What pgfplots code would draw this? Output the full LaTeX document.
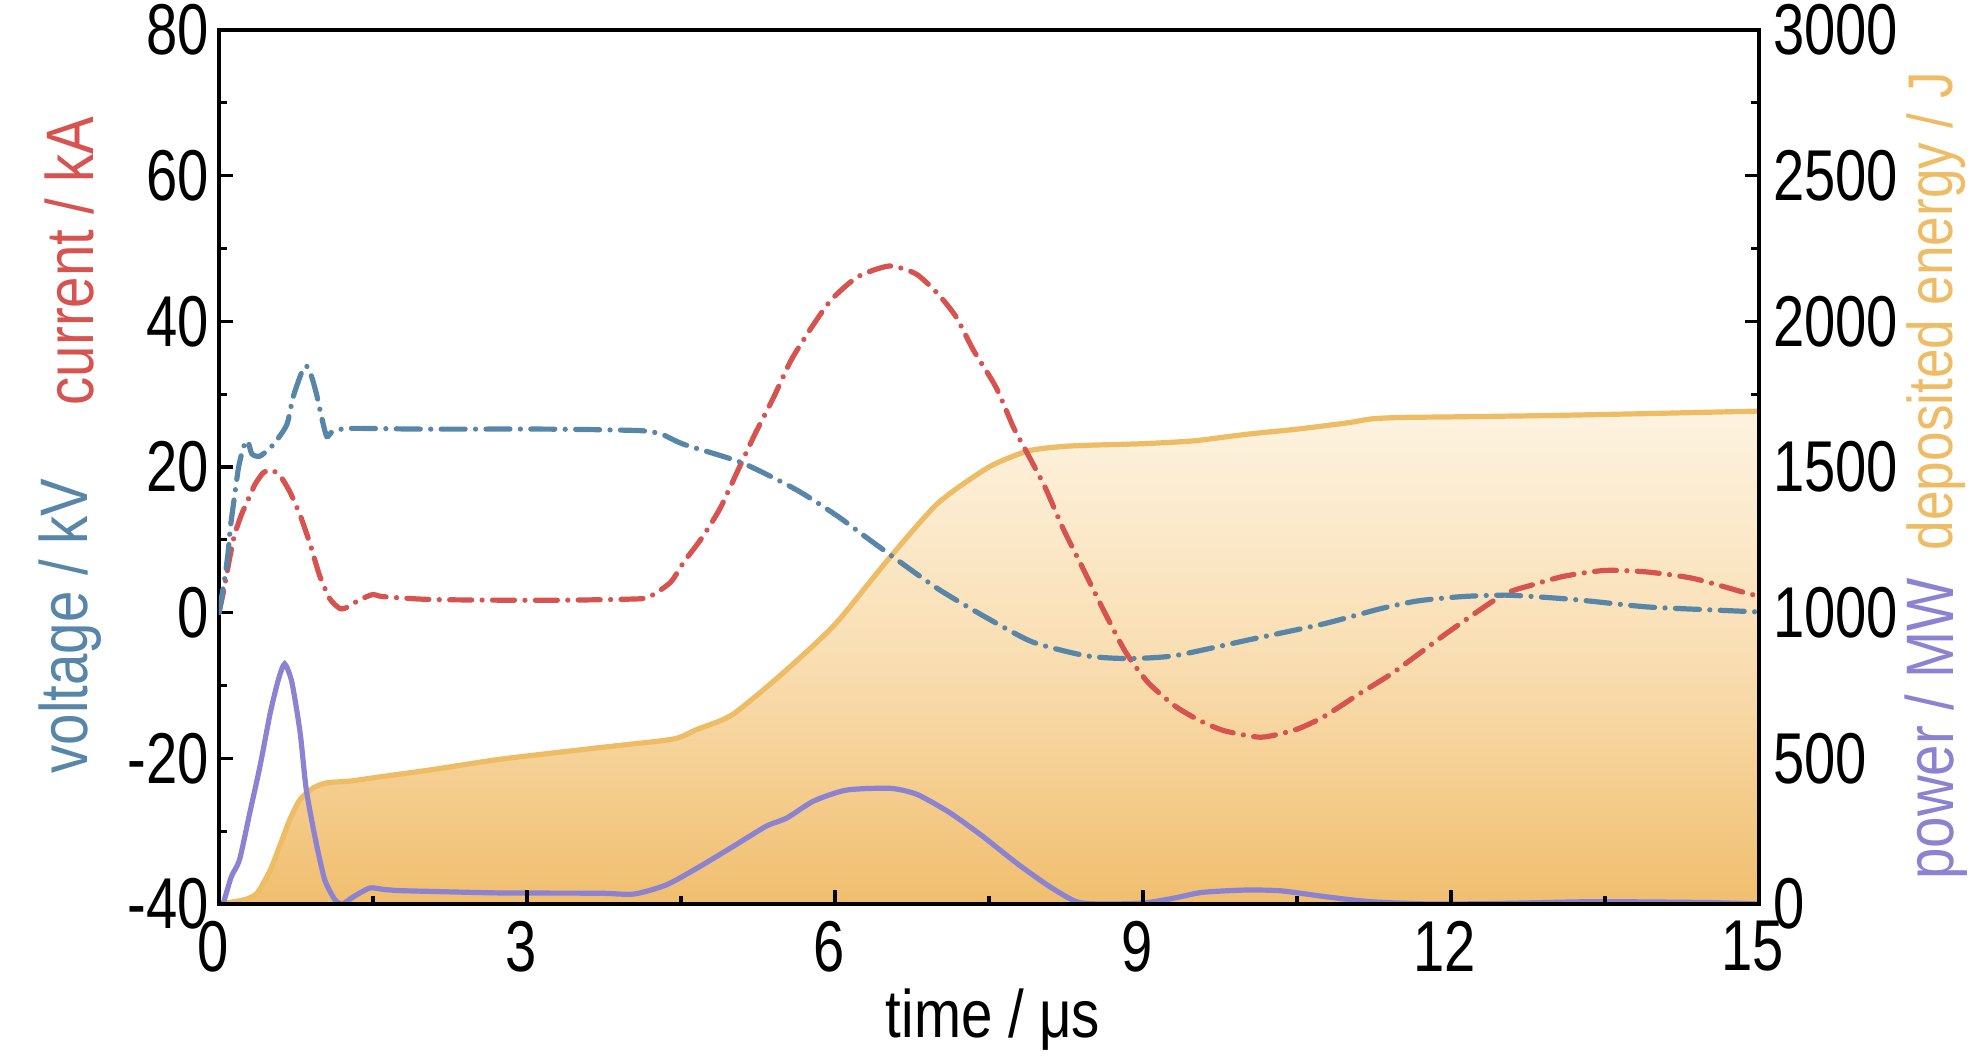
\documentclass[border=0pt]{standalone}
\usepackage{fontspec}
\setmainfont{Liberation Sans}[FakeStretch=0.84]
\newfontfamily\tickfont{Liberation Sans}[FakeStretch=0.78]
\usepackage{pgfplots}
\pgfplotsset{compat=1.18}
\definecolor{cred}{RGB}{214,83,79}
\definecolor{cblue}{RGB}{88,134,168}
\definecolor{cpurple}{RGB}{140,130,210}
\definecolor{corange}{RGB}{238,188,100}
\definecolor{ftop}{RGB}{253,243,224}
\definecolor{fmid}{RGB}{249,222,178}
\definecolor{fbot}{RGB}{240,190,110}
\newcommand\lbl{\fontsize{16.8}{20}\selectfont}
\newcommand\tkl{\tickfont\fontsize{18}{21}\selectfont}

\pgfplotstableread{
t E
0 0
0.24 14
0.37 37
0.50 117
0.59 198
0.69 290
0.79 359
0.92 399
1.05 416
1.28 422
1.50 433
2.09 462
2.74 497
3.71 537
4.42 566
4.66 600
5.0 650
5.5 795
6.0 960
6.5 1175
7.0 1375
7.5 1500
7.88 1555
8.2 1570
8.5 1575
9.0 1580
9.5 1590
10.0 1612
10.5 1630
11.0 1652
11.22 1665
11.5 1670
12.0 1672
13.0 1677
14.0 1684
15.0 1692
}\energy

\pgfplotstableread{
t P
0 0
0.04 2
0.12 94
0.20 152
0.30 313
0.40 474
0.50 657
0.58 772
0.64 824
0.71 761
0.79 589
0.85 393
0.94 221
1.03 83
1.13 14
1.20 0
1.31 25
1.47 55
1.60 50
1.76 46
2.09 43
2.74 38
3.71 37
4.04 34
4.36 66
4.68 128
5.01 198
5.33 267
5.53 295
5.79 353
6.11 391
6.54 397
6.80 376
7.12 313
7.44 232
7.77 140
8.09 60
8.35 8
8.58 0
9.0 3
9.3 20
9.58 40
10.01 48
10.35 45
10.78 25
11.21 8
11.8 0
12.5 2
13.4 8
14.5 5
15 0
}\power

\pgfplotstableread{
t I
0.00 0
0.05 3.3
0.10 7.2
0.15 10.6
0.22 13.5
0.29 15.7
0.35 17.6
0.43 19.2
0.50 19.6
0.59 18.9
0.69 16.6
0.79 13.4
0.89 9.3
0.98 5.1
1.08 1.9
1.18 0.55
1.26 0.8
1.36 1.7
1.50 2.5
1.60 2.2
2.09 1.8
3.22 1.7
4.09 1.9
4.22 2.4
4.40 4.2
4.53 7.0
4.70 10.2
4.88 14.3
5.05 19.4
5.22 24.5
5.40 29.5
5.57 34.6
5.75 38.7
5.96 42.9
6.22 46.1
6.53 47.6
6.79 46.5
7.00 43.8
7.18 40.6
7.35 36.0
7.57 30.9
7.74 25.4
7.88 21.7
8.05 17.1
8.22 11.6
8.40 6.5
8.61 0.5
8.83 -5.4
9.05 -9.6
9.31 -12.8
9.55 -14.8
9.79 -16.2
10.15 -17.1
10.5 -16.0
10.77 -14.2
11.1 -11.2
11.44 -8.2
11.98 -2.6
12.5 2.4
12.79 3.8
13.1 5.0
13.5 5.8
13.9 5.6
14.36 4.7
14.9 2.6
15 2.3
}\current

\pgfplotstableread{
t U
0 0
0.03 2.5
0.06 5.1
0.09 8.4
0.11 11.6
0.14 14.8
0.19 19.9
0.24 22.8
0.28 23.6
0.32 21.8
0.40 21.5
0.53 23.1
0.66 25.8
0.72 29.5
0.80 32.8
0.85 33.9
0.90 32.5
0.95 30.0
1.00 26.8
1.05 24.2
1.11 24.9
1.28 25.3
2.0 25.2
3.22 25.2
4.09 25.0
4.31 24.5
4.53 23.1
5.09 20.6
5.62 16.9
6.01 13.4
6.27 10.7
6.61 7.2
7.00 3.3
7.44 -0.4
7.92 -4.0
8.44 -5.9
8.85 -6.3
9.31 -5.9
10.04 -3.7
10.77 -1.5
11.3 0.5
11.67 1.6
12.1 2.2
12.56 2.4
13.2 1.8
13.9 0.8
14.5 0.4
15 0.1
}\voltage

\pgfplotsset{
  base/.style={scale only axis, width=385pt, height=218.5pt,
    xmin=0, xmax=15,
    tick align=inside, major tick length=3.5pt, minor tick length=2pt,
    every tick/.style={black, line width=0.8pt},
    axis line style={line width=0.9pt},
    tick label style={font=\tkl},
  },
  curve/.style={line width=1.3pt, smooth, tension=0.4},
}

\begin{document}
\begin{tikzpicture}
\begin{axis}[base, name=ax2,
  axis y line*=right, axis x line=none,
  ymin=0, ymax=3000,
  ytick={0,500,1000,1500,2000,2500,3000},
  yticklabels={0,500,1000,1500,2000,2500,3000},
  minor y tick num=1,
  yticklabel style={inner xsep=3.3pt, inner ysep=0pt},
]
\addplot[draw=none, smooth, tension=0.4, top color=ftop, bottom color=fbot, middle color=fmid] table[x=t,y=E] {\energy} \closedcycle;
\addplot[corange, curve] table[x=t,y=E] {\energy};
\addplot[cpurple, curve] table[x=t,y=P] {\power};
\end{axis}
\begin{axis}[base, name=ax,
  ymin=-40, ymax=80,
  ytick={-40,-20,0,20,40,60,80},
  yticklabels={-40,-20,0,20,40,60,80},
  minor y tick num=1,
  xtick={0,3,6,9,12,15},
  xticklabels={0,3,6,9,12,15},
  minor x tick num=1,
  xtick pos=left, ytick pos=left,
  yticklabel style={inner xsep=2.3pt, inner ysep=0pt},
  xticklabel style={inner ysep=4pt, inner xsep=0pt, xshift=-1.5pt},
]
\addplot[cred, curve, line cap=round, dash pattern=on 5.5pt off 2.6pt on 0.01pt off 2.6pt] table[x=t,y=I] {\current};
\addplot[cblue, curve, line cap=round, dash pattern=on 6pt off 2.6pt on 0.01pt off 2.6pt] table[x=t,y=U] {\voltage};
\end{axis}
\node[rotate=90, text=cred, font=\lbl, inner sep=0pt] at ([shift={(-37.3pt,160.75pt)}]ax.south west) {current / kA};
\node[rotate=90, text=cblue, font=\lbl, inner sep=0pt] at ([shift={(-37.3pt,69.5pt)}]ax.south west) {voltage / kV};
\node[rotate=90, text=corange, font=\lbl, inner sep=0pt] at ([shift={(44.3pt,148.25pt)}]ax.south east) {\fontsize{15.8}{19}\selectfont deposited energy / J};
\node[rotate=90, text=cpurple, font=\lbl, inner sep=0pt] at ([shift={(44.3pt,43.75pt)}]ax.south east) {power / MW};
\node[font=\lbl, inner sep=0pt] at ([shift={(193.5pt,-29pt)}]ax.south west) {time / μs};
\pgfresetboundingbox
\useasboundingbox ([shift={(-54.75pt,-39.75pt)}]ax.south west) rectangle ++(496pt,265.75pt);
\end{tikzpicture}
\end{document}
